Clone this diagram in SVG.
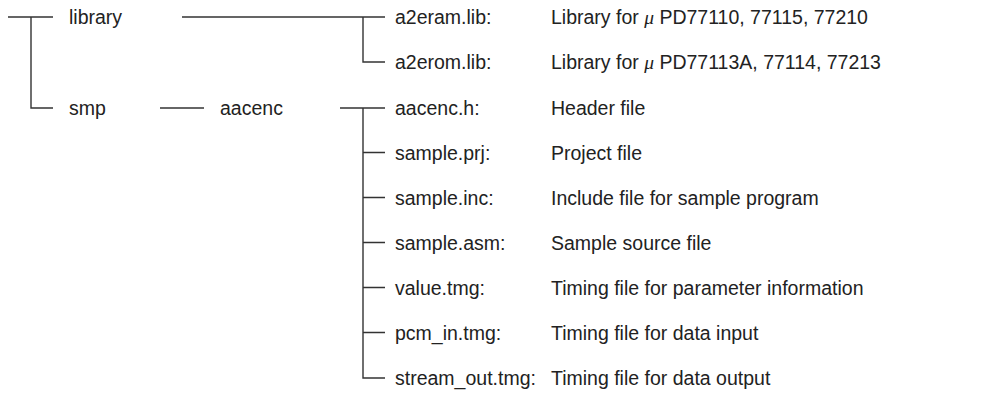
<svg xmlns="http://www.w3.org/2000/svg" width="1003" height="393" viewBox="0 0 1003 393">
<style>
.c{fill:none;stroke:#333;stroke-width:1.4}
text{font-family:"Liberation Sans",Arial,sans-serif;font-size:19.5px;fill:#222}
.mu{font-family:"Liberation Serif","Times New Roman",serif;font-style:italic}
</style>
<rect width="1003" height="393" fill="#fff"/>
<g id="connectors">
<path class="c" d="M8 17H53M31 17V108H53"/>
<path class="c" d="M182 17H385M363 17V62H385"/>
<path class="c" d="M160 108H204"/>
<path class="c" d="M340 108H385M363 108V378H385M363 152.5H385M363 197.5H385M363 242.5H385M363 287.5H385M363 332.5H385"/>
</g>
<g id="library"><text x="69" y="24">library</text></g>
<g id="smp"><text x="69" y="115">smp</text></g>
<g id="aacenc"><text x="220" y="115">aacenc</text></g>
<g id="a2eram"><text x="395" y="24">a2eram.lib:</text><text x="551" y="24">Library for <tspan class="mu">μ</tspan> PD77110, 77115, 77210</text></g>
<g id="a2erom"><text x="395" y="69">a2erom.lib:</text><text x="551" y="69">Library for <tspan class="mu">μ</tspan> PD77113A, 77114, 77213</text></g>
<g id="aacenc_h"><text x="395" y="115">aacenc.h:</text><text x="551" y="115">Header file</text></g>
<g id="sample_prj"><text x="395" y="160">sample.prj:</text><text x="551" y="160">Project file</text></g>
<g id="sample_inc"><text x="395" y="205">sample.inc:</text><text x="551" y="205">Include file for sample program</text></g>
<g id="sample_asm"><text x="395" y="250">sample.asm:</text><text x="551" y="250">Sample source file</text></g>
<g id="value_tmg"><text x="395" y="295">value.tmg:</text><text x="551" y="295">Timing file for parameter information</text></g>
<g id="pcm_in_tmg"><text x="395" y="340">pcm_in.tmg:</text><text x="551" y="340">Timing file for data input</text></g>
<g id="stream_out_tmg"><text x="395" y="385">stream_out.tmg:</text><text x="551" y="385">Timing file for data output</text></g>
</svg>
